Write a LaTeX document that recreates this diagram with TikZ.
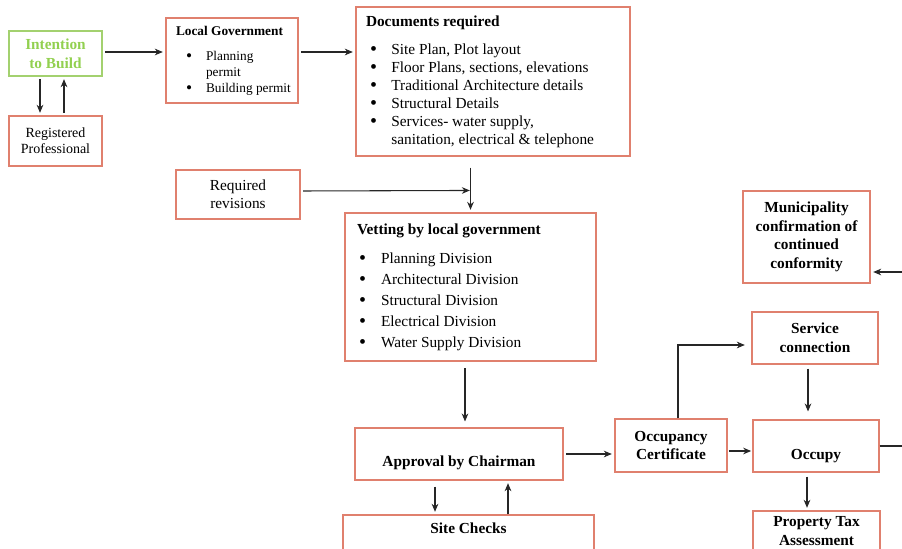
\documentclass[tikz,border=0pt]{standalone}
\usepackage{fontspec}
\setmainfont{Liberation Serif}
\usepackage{xcolor}
\usepackage{graphicx}
\usepackage{tikz}
\usetikzlibrary{arrows.meta}
\usetikzlibrary{positioning, calc}

\definecolor{boxred}{HTML}{E0806E}
\definecolor{boxgreen}{HTML}{A3D16F}
\definecolor{textgreen}{HTML}{92D050}
\newcommand{\bitem}[2][16pt]{\makebox[#1][l]{\raisebox{-0.7pt}{\scalebox{1.3}{\textbullet}}}\mbox{#2}}

\tikzset{
  box/.style={draw=boxred, line width=0.8pt, inner sep=0pt, align=center,
    font=\fontsize{11.5}{13.5}\selectfont},
  headbox/.style={box, font=\fontsize{11.5}{14}\selectfont\bfseries},
  listbox/.style={box, align=flush left},
  link/.style={draw=black!85, line width=0.8pt, shorten >=2pt, shorten <=2pt}
}

\begin{document}
\begin{tikzpicture}[x=0.75pt, y=-0.75pt]
\useasboundingbox (0,0) rectangle (902,549);

\begin{scope}[every node/.style={box}]
    \node[headbox, draw=boxgreen, text=textgreen, minimum width=69.75pt, minimum height=33.75pt] (intent) at (55.5,53.5) {Intention\\to Build};
    \node[font=\fontsize{10.5}{12}\selectfont, minimum width=69.75pt, minimum height=37.5pt] (regpro) at (55.5,141) {Registered\\Professional};
    \node[listbox, font=\fontsize{10}{12}\selectfont, inner xsep=4.5pt, text width=90pt, minimum height=63.75pt] (localgov) at (232,60.5)
        {\hspace*{3pt}\textbf{Local Government}\\[6.75pt]
         \hspace*{10.5pt}\bitem[15pt]{Planning}\\
         \hspace*{25.5pt}permit\\
         \hspace*{10.5pt}\bitem[15pt]{Building permit}};
    \node[listbox, inner xsep=7.5pt, text width=190.5pt, minimum height=111.75pt] (docs) at (493,81.5)
        {\textbf{Documents required}\\[7.5pt]
         \hspace*{3pt}\bitem{Site Plan, Plot layout}\\
         \hspace*{3pt}\bitem{Floor Plans, sections, elevations}\\
         \hspace*{3pt}\bitem{Traditional Architecture details}\\
         \hspace*{3pt}\bitem{Structural Details}\\
         \hspace*{3pt}\bitem{Services- water supply,}\\
         \hspace*{19pt}sanitation, electrical \& telephone};
    \node[minimum width=93pt, minimum height=36.75pt] (revis) at (238,194.5) {Required\\revisions};
    \node[listbox, inner xsep=9pt, text width=170.25pt, minimum height=111pt] (vet) at (470.5,287)
        {\textbf{Vetting by local government}\\[8.25pt]
         \hspace*{1.5pt}\bitem[16.5pt]{Planning Division}\\[2.25pt]
         \hspace*{1.5pt}\bitem[16.5pt]{Architectural Division}\\[2.25pt]
         \hspace*{1.5pt}\bitem[16.5pt]{Structural Division}\\[2.25pt]
         \hspace*{1.5pt}\bitem[16.5pt]{Electrical Division}\\[2.25pt]
         \hspace*{1.5pt}\bitem[16.5pt]{Water Supply Division}};
    \node[headbox, minimum width=156pt, minimum height=39pt] (approve) at (459,454) {\strut\\[-3.25pt]Approval by Chairman};
    \node[headbox, minimum width=188.25pt, minimum height=48.75pt] (sitechk) at (468.5,547.5) {Site Checks\\[10.5pt]\strut};
    \node[headbox, minimum width=84pt, minimum height=39.75pt] (occert) at (671,445.5) {Occupancy\\Certificate};
    \node[headbox, minimum width=94.5pt, minimum height=39pt] (service) at (815,338) {Service\\connection};
    \node[headbox, minimum width=94.5pt, minimum height=39pt] (occupy) at (816,446) {\strut\\[-1.75pt]Occupy};
    \node[headbox, minimum width=95.25pt, minimum height=69pt] (munic) at (806.5,237) {Municipality\\confirmation of\\continued\\conformity};
    \node[headbox, minimum width=95.25pt, minimum height=48pt] (ptax) at (816.5,543) {Property Tax\\Assessment\\\strut};
\end{scope}

\coordinate (back) at ($(occupy.east)+(60,0)$);

\begin{scope}[>={Stealth[length=6pt,width=5pt]},
              every edge/.style={link}]
    \path [->] ($(intent.south)+(-15.5,0)$) edge ($(regpro.north)+(-15.5,0)$);
    \path [->] ($(regpro.north)+(8.5,0)$) edge ($(intent.south)+(8.5,0)$);
    \path [->] ($(intent.east)+(0,-1.5)$) edge ($(localgov.west)+(0,-8.5)$);
    \path [->] ($(localgov.east)+(0,-8.5)$) edge ($(docs.west)+(0,-29.5)$);
    \path [->] ($(docs.south)+(-22.5,11)$) edge[shorten <=0pt] (vet.north);
    \path [->] ($(revis.east)+(0,-3.5)$) edge[shorten >=0.5pt] ($(vet.north)+(0,-22)$);
    \path [->] ($(vet.south)+(-5.5,0)$) edge[shorten <=5pt, shorten >=4.5pt] ($(approve.north)+(6,0)$);
    \path [->] (approve.east) edge ($(occert.west)+(0,8.5)$);
    \path [->] ($(approve.south)+(-24,0)$) edge[shorten <=4.5pt] ($(sitechk.north)+(-33.5,0)$);
    \path [->] ($(sitechk.north)+(39.5,0)$) edge[shorten <=0pt] ($(approve.south)+(49,0)$);
    \path [->] ($(service.south)+(-7,0)$) edge[shorten <=3pt, shorten >=6pt] ($(occupy.north)+(-8,0)$);
    \path [->] ($(occert.east)+(0,5.5)$) edge[shorten <=1pt, shorten >=1pt] ($(occupy.west)+(0,5)$);
    \path [->] ($(occupy.south)+(-9,0)$) edge[shorten <=3pt] ($(ptax.north)+(-9.5,0)$);
\end{scope}

\draw [link, ->, >={Stealth[length=6pt,width=5pt]}, shorten <=0pt, shorten >=5pt]
    ($(occert.north)+(7,0)$) |- ($(service.west)+(0,7)$);
\draw [link, shorten <=0pt] (occupy.east) -- (back);
\draw [link, ->, >={Stealth[length=6pt,width=5pt]}, shorten <=0pt]
    (back) |- ($(munic.east)+(0,35)$);
\end{tikzpicture}
\end{document}
